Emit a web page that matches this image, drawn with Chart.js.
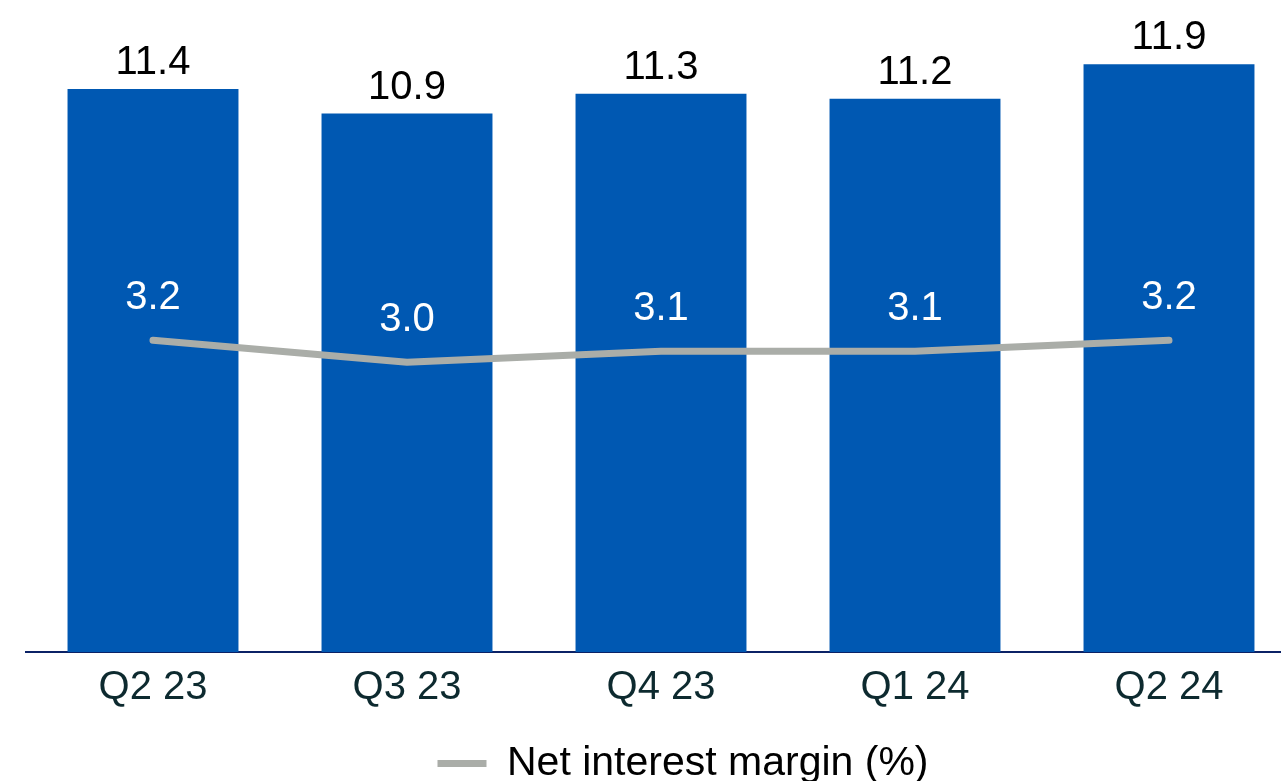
<!DOCTYPE html>
<html>
<head>
<meta charset="utf-8">
<script src="https://cdn.jsdelivr.net/npm/chart.js@4/dist/chart.umd.min.js"></script>
<style>
  html, body { margin: 0; padding: 0; background: #fff; overflow: hidden; }
  #wrap { position: relative; width: 1366px; height: 794px; }
</style>
</head>
<body>
<div id="wrap"><canvas id="chart"></canvas></div>
<script>
const quarters = ['Q2 23', 'Q3 23', 'Q4 23', 'Q1 24', 'Q2 24'];
const incomeValues = [11.4, 10.9, 11.3, 11.2, 11.9];
const marginValues = [3.2, 3.0, 3.1, 3.1, 3.2];

const FONT = '"Liberation Sans", Arial, sans-serif';
const BAR_BLUE = '#0058b2';
const LINE_GREY = '#aaada8';

// --- Value labels (bars: dark above, line: white above the point) ---
const valueLabels = {
  id: 'valueLabels',
  afterDatasetsDraw(chart) {
    const ctx = chart.ctx;
    ctx.save();
    ctx.font = '40px ' + FONT;
    ctx.textAlign = 'center';
    ctx.textBaseline = 'alphabetic';
    chart.data.datasets.forEach((ds, i) => {
      const meta = chart.getDatasetMeta(i);
      meta.data.forEach((el, j) => {
        const v = ds.data[j].toFixed(1);
        if (ds.type === 'bar') {
          ctx.fillStyle = '#000';
          ctx.fillText(v, el.x, el.y - 15);
        } else {
          ctx.fillStyle = '#fff';
          ctx.fillText(v, el.x, el.y - 31);
        }
      });
    });
    ctx.restore();
  },
};

const hiddenAxis = (width, position) => ({
  display: true,
  position,
  ticks: { display: false },
  grid: { display: false, drawTicks: false },
  border: { display: false },
  afterFit: (scale) => { scale.width = width; },
});

new Chart(document.getElementById('chart'), {
  data: {
    labels: quarters,
    datasets: [
      {
        type: 'line',
        label: 'Net interest margin (%)',
        data: marginValues,
        yAxisID: 'y1',
        borderColor: LINE_GREY,
        backgroundColor: LINE_GREY,
        borderWidth: 7,
        borderCapStyle: 'round',
        borderJoinStyle: 'round',
        tension: 0,
        pointRadius: 0,
        order: 0,
      },
      {
        type: 'bar',
        label: 'Income',
        data: incomeValues,
        yAxisID: 'y',
        backgroundColor: BAR_BLUE,
        barPercentage: 0.673,
        categoryPercentage: 1,
        order: 1,
      },
    ],
  },
  options: {
    responsive: true,
    maintainAspectRatio: false,
    animation: false,
    layout: { padding: 0 },
    plugins: {
      tooltip: { enabled: false },
      legend: {
        position: 'bottom',
        labels: {
          color: '#000',
          font: { family: FONT, size: 41 },
          boxWidth: 49,
          boxHeight: 7,
          padding: 19,
          generateLabels: (chart) => [{
            text: chart.data.datasets[0].label,
            fillStyle: LINE_GREY,
            strokeStyle: LINE_GREY,
            lineWidth: 0,
            datasetIndex: 0,
            hidden: false,
          }],
        },
      },
    },
    scales: {
      x: {
        grid: { display: false, drawTicks: false },
        border: { display: true, color: '#0b2266', width: 2 },
        ticks: { color: '#0d2a2f', font: { family: FONT, size: 40 }, padding: 12 },
      },
      y: { ...hiddenAxis(26, 'left'), min: 0, max: 13.2 },
      y1: { ...hiddenAxis(70, 'right'), min: 0.37, max: 6.29 },
    },
  },
  plugins: [valueLabels],
});
</script>
</body>
</html>
